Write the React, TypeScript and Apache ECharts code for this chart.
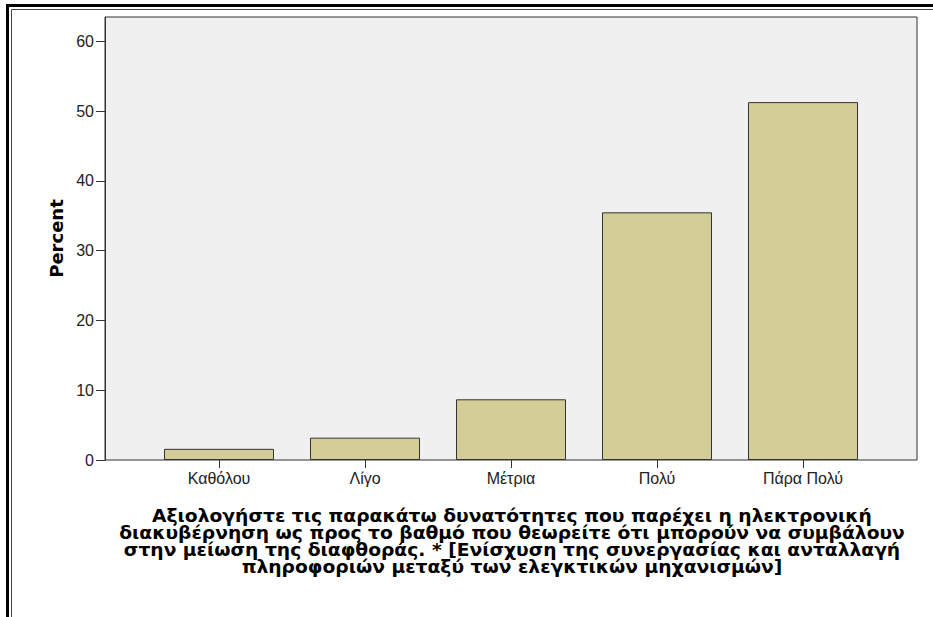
import React, { useEffect, useRef } from "react";
import * as echarts from "echarts";

const categories = ["Καθόλου", "Λίγο", "Μέτρια", "Πολύ", "Πάρα Πολύ"];
const percentValues = [1.6, 3.2, 8.7, 35.5, 51.3];
const yTickValues = [0, 10, 20, 30, 40, 50, 60];
const yAxisMax = 63.5;
const yAxisTitle = "Percent";
const xAxisTitleLines = [
  "Αξιολογήστε τις παρακάτω δυνατότητες που παρέχει η ηλεκτρονική",
  "διακυβέρνηση ως προς το βαθμό που θεωρείτε ότι μπορούν να συμβάλουν",
  "στην μείωση της διαφθοράς. * [Ενίσχυση της συνεργασίας και ανταλλαγή",
  "πληροφοριών μεταξύ των ελεγκτικών μηχανισμών]",
];

const FONT = "'Liberation Sans', Arial, sans-serif";
const TITLE_FONT = "'DejaVu Sans', Verdana, sans-serif";

export default function App() {
  const ref = useRef<HTMLDivElement>(null);
  useEffect(() => {
    if (!ref.current) return;
    const chart = echarts.init(ref.current, null, { renderer: "svg" });
    chart.setOption({
      animation: false,
      backgroundColor: "#ffffff",
      grid: [
        {
          left: 105,
          top: 17,
          width: 812,
          height: 443,
          show: true,
          backgroundColor: "#f0f0f0",
          borderColor: "#333",
          borderWidth: 1,
        },
        { left: 146, top: 17, width: 730, height: 443 },
      ],
      xAxis: [
        {
          gridIndex: 0,
          type: "value",
          min: 0,
          max: 1,
          show: false,
        },
        {
          gridIndex: 1,
          type: "category",
          data: categories,
          axisLine: { show: false },
          axisTick: {
            show: true,
            alignWithLabel: true,
            length: 8,
            lineStyle: { color: "#333", width: 1 },
          },
          axisLabel: {
            color: "#222",
            fontSize: 16,
            fontFamily: FONT,
            margin: 10,
          },
        },
      ],
      yAxis: [
        {
          gridIndex: 0,
          type: "value",
          min: 0,
          max: yAxisMax,
          name: yAxisTitle,
          nameLocation: "middle",
          nameRotate: 90,
          nameGap: 35,
          nameTextStyle: {
            fontWeight: "bold",
            fontSize: 18,
            color: "#000",
            fontFamily: TITLE_FONT,
          },
          axisLine: { show: true, lineStyle: { color: "#333", width: 1 } },
          axisTick: {
            show: true,
            length: 9,
            customValues: yTickValues,
            lineStyle: { color: "#333", width: 1 },
          },
          axisLabel: {
            customValues: yTickValues,
            color: "#222",
            fontSize: 16,
            fontFamily: FONT,
            margin: 11,
          },
          splitLine: { show: false },
        },
        {
          gridIndex: 1,
          type: "value",
          min: 0,
          max: yAxisMax,
          show: false,
          splitLine: { show: false },
        },
      ],
      series: [
        {
          type: "bar",
          xAxisIndex: 1,
          yAxisIndex: 1,
          data: percentValues,
          barWidth: 110,
          itemStyle: {
            color: "#d3ce98",
            borderColor: "#333",
            borderWidth: 1,
          },
        },
      ],
      graphic: [
        {
          type: "rect",
          shape: { x: 7.5, y: 5.5, width: 960, height: 700 },
          style: { fill: "none", stroke: "#000", lineWidth: 3 },
          silent: true,
        },
        {
          type: "rect",
          shape: { x: 11.5, y: 9.5, width: 960, height: 700 },
          style: { fill: "none", stroke: "#444", lineWidth: 1 },
          silent: true,
        },
        {
          type: "text",
          x: 512,
          y: 507,
          scaleX: 1.1,
          style: {
            text: xAxisTitleLines.join("\n"),
            fontSize: 17,
            fontWeight: "bold",
            fontFamily: TITLE_FONT,
            lineHeight: 17,
            fill: "#000",
            align: "center",
            verticalAlign: "top",
          },
        },
      ],
    });
    return () => chart.dispose();
  }, []);
  return (
    <div
      ref={ref}
      style={{ position: "fixed", left: 0, top: 0, width: 933, height: 617 }}
    />
  );
}
